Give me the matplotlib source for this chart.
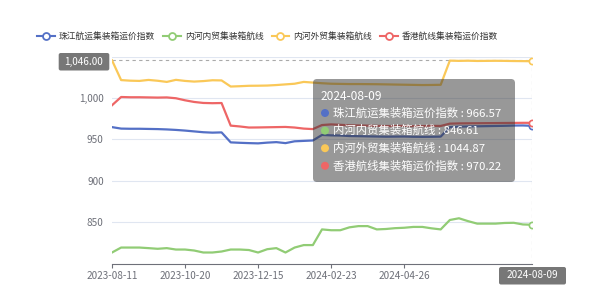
import pandas as pd
import matplotlib.pyplot as plt
from matplotlib.lines import Line2D
from matplotlib.patches import FancyBboxPatch, Circle
from matplotlib.ticker import FuncFormatter

plt.rcParams['font.family'] = ['Noto Sans CJK SC', 'DejaVu Sans']
plt.rcParams['axes.unicode_minus'] = False

# 周度日期（国庆、春节、清明、五一等周缺失）
skip = ['2023-09-29', '2023-10-06', '2024-02-09', '2024-02-16', '2024-04-05', '2024-05-03']
dates = [d.strftime('%Y-%m-%d') for d in pd.date_range('2023-08-11', '2024-08-09', freq='7D')
         if d.strftime('%Y-%m-%d') not in skip]

names = ['珠江航运集装箱运价指数', '内河内贸集装箱航线', '内河外贸集装箱航线', '香港航线集装箱运价指数']
colors = ['#5470c6', '#91cc75', '#fac858', '#ee6666']

zhujiang = [965, 963.2, 963, 963, 962.8, 962.6, 962.2, 961.6, 960.8, 959.8, 958.8, 958.3, 958.6,
            946.5, 946, 945.6, 945.3, 946.2, 946.8, 945.6, 947.8, 948.3, 948.8, 955.5, 955, 954.8,
            954.2, 954, 953.8, 953.6, 953.4, 953.5, 953.6, 953.3, 953.2, 953.3, 953.5, 965, 965.6,
            965.8, 966, 966.2, 966.4, 966.6, 966.9, 967.0, 966.57]
neihe_nei = [813, 819, 819, 819, 818.3, 817.5, 818.3, 816.6, 816.6, 815.4, 813, 813, 814.2, 816.6,
             816.6, 816, 813, 817, 818.3, 813, 819, 822, 822, 841, 840, 840, 843.5, 845, 845, 841,
             841.5, 842.5, 843, 844, 844, 842.3, 841, 852.4, 854.5, 851, 848, 848, 848, 848.8, 849,
             847, 846.61]
neihe_wai = [1046, 1022, 1021.3, 1021, 1022.2, 1021.2, 1019.8, 1022.3, 1021, 1020.2, 1020.8, 1021.8,
             1021.6, 1014.2, 1014.6, 1015.1, 1015.2, 1015.4, 1016, 1016.8, 1017.6, 1019.8, 1019,
             1018.2, 1017.6, 1017.4, 1017.2, 1017.2, 1017.1, 1017.0, 1016.8, 1016.6, 1016.4, 1016.2,
             1016, 1016.1, 1016.3, 1045.6, 1045.3, 1045.5, 1045.2, 1045.3, 1045.4, 1045.3, 1045.1,
             1045.0, 1044.87]
hongkong = [991.5, 1001.5, 1001.2, 1001.2, 1001, 1000.8, 1001, 1000, 997.5, 995.5, 994.3, 994,
            994.2, 966.8, 965.8, 964.5, 964.6, 964.8, 965, 965.2, 964.5, 963.2, 962.6, 967.5, 968.3,
            967.8, 967.2, 967, 966.8, 966.5, 966.3, 966.4, 966.5, 966.2, 966.3, 966.5, 966.4, 969.2,
            969.5, 969.6, 969.7, 969.8, 969.9, 970, 970.1, 970.2, 970.22]
series = [zhujiang, neihe_nei, neihe_wai, hongkong]

pointer_y = 1046.0
label_idx = [0, 8, 16, 24, 32]
grey = '#6E7079'

fig = plt.figure(figsize=(6, 3), dpi=100)
ax = fig.add_axes([112 / 600, 1 - 264.3 / 300, 420 / 600, 207.3 / 300])
x = list(range(len(dates)))
for s, c in zip(series, colors):
    ax.plot(x, s, color=c, lw=1.6, solid_joinstyle='round', zorder=3)
    ax.plot(x[-1], s[-1], 'o', ms=4.5, mfc='white', mec=c, mew=1.2, zorder=4)

ax.set_xlim(0, len(dates) - 1)
ax.set_ylim(798.7, 1050)
ax.set_yticks([850, 900, 950, 1000, 1050])
ax.yaxis.set_major_formatter(FuncFormatter(lambda v, p: f'{v:,.0f}'))
ax.set_xticks(label_idx)
ax.set_xticklabels([dates[i] for i in label_idx])
ax.tick_params(axis='y', length=0, pad=6, labelsize=7.2, labelcolor=grey)
ax.tick_params(axis='x', length=3, color=grey, pad=2, labelsize=7.2, labelcolor=grey)
ax.grid(axis='y', color='#E0E6F1', lw=0.8)
ax.set_axisbelow(True)
for sp in ['left', 'right', 'top']:
    ax.spines[sp].set_visible(False)
ax.spines['bottom'].set_color(grey)

# 十字指示线
ax.axhline(pointer_y, color='#aaaaaa', lw=0.8, ls=(0, (3, 3)), zorder=2)
ax.axvline(x[-1], color='#aaaaaa', lw=0.8, ls=(0, (3, 3)), zorder=2)

# 图例
handles = [Line2D([0], [0], color=c, lw=1.5, marker='o', ms=5, mfc='white', mec=c, mew=1.3)
           for c in colors]
fig.legend(handles, names, loc='center', bbox_to_anchor=(0.446, 0.878), ncol=4, frameon=False,
           fontsize=6.3, handlelength=2.0, handletextpad=0.5, columnspacing=0.9,
           labelcolor='#333333')

# 叠加层（像素坐标）
ov = fig.add_axes([0, 0, 1, 1], zorder=10)
ov.set_xlim(0, 600)
ov.set_ylim(300, 0)
ov.axis('off')

ov.add_patch(FancyBboxPatch((313, 79), 202, 103, boxstyle='round,pad=0,rounding_size=4',
                            fc=(0.2, 0.2, 0.2, 0.5), ec='none'))
ov.text(321, 96, dates[-1], color='white', fontsize=8.6, va='center', ha='left')
for i, (n, s, c) in enumerate(zip(names, series, colors)):
    yy = 113 + i * 17.6
    ov.add_patch(Circle((325, yy), 4, fc=c, ec='none'))
    ov.text(333, yy, f'{n} : {s[-1]:.2f}', color='white', fontsize=8.2, va='center', ha='left')

ov.add_patch(FancyBboxPatch((58.7, 53), 50.6, 17.5, boxstyle='round,pad=0,rounding_size=2',
                            fc='#777777', ec='none'))
ov.text(84, 62, f'{pointer_y:,.2f}', color='white', fontsize=7.2, va='center', ha='center')
ov.add_patch(FancyBboxPatch((499, 267), 67, 17.5, boxstyle='round,pad=0,rounding_size=2',
                            fc='#777777', ec='none'))
ov.text(532.5, 275.5, dates[-1], color='white', fontsize=7.2, va='center', ha='center')

plt.savefig('out.png', dpi=100)
